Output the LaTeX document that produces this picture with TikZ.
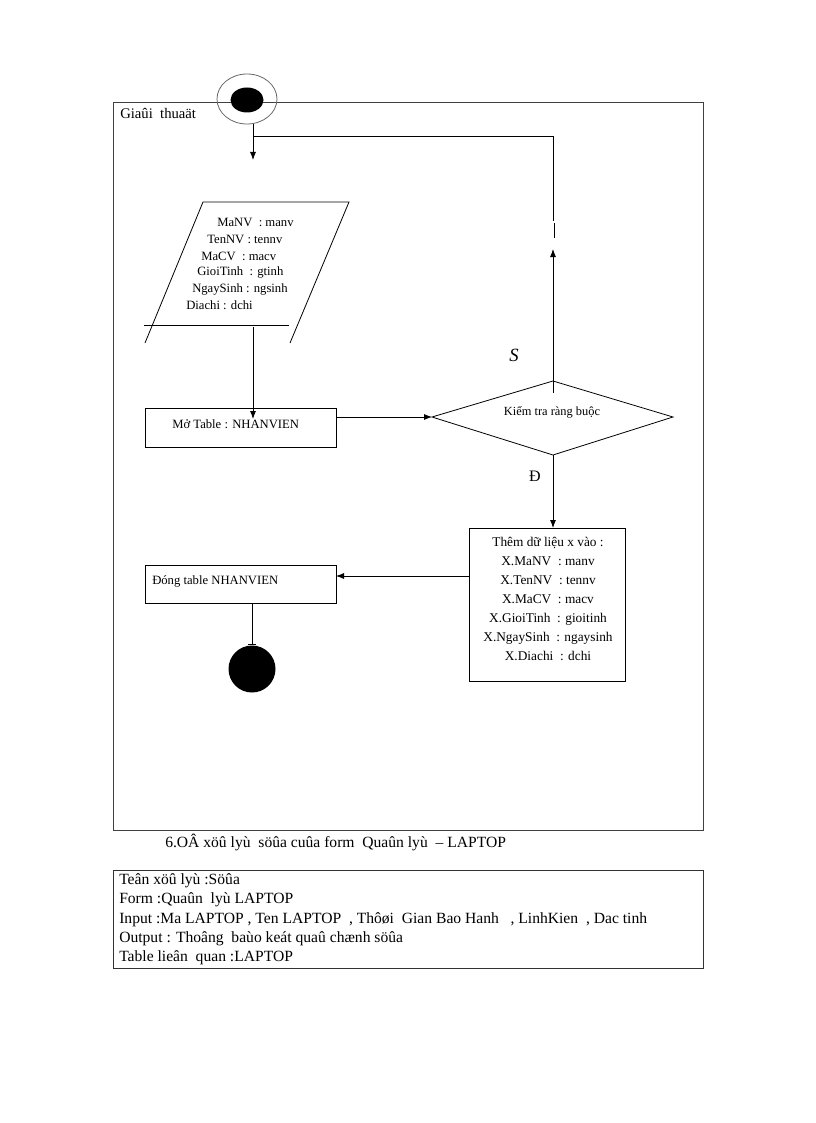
\documentclass[tikz,border=0pt]{standalone}
\usepackage{fontspec}
\setmainfont{Liberation Serif}
\usetikzlibrary{arrows.meta,shapes.geometric}
\begin{document}
\begin{tikzpicture}[x=0.75pt,y=-0.75pt,
  ln/.style={draw=black,line width=0.6pt},
  arr/.style={ln,-{Latex[length=6pt,width=4.5pt]}},
  fbox/.style={draw=black,line width=0.6pt,rectangle,inner sep=0pt},
  ftxt/.style={font=\fontsize{9.5}{11}\selectfont,inner sep=0pt},
  btxt/.style={font=\fontsize{11.7}{14}\selectfont,inner sep=0pt,anchor=west}]
\useasboundingbox (0,0) rectangle (816,1123);
% outer frame
\node[fbox,draw=black!75,minimum width=590*0.75pt,minimum height=728*0.75pt] (frame) at (408,466) {};
\node[font=\fontsize{11}{13}\selectfont,inner sep=0pt,anchor=west] (title) at (120,113) {Giaûi\ \ thuaät};
% start
\node[draw=black!60,line width=0.6pt,ellipse,minimum width=60*0.75pt,minimum height=50*0.75pt,inner sep=0pt] (start) at (247,99) {};
\node[fill=black,ellipse,minimum width=33*0.75pt,minimum height=25*0.75pt,inner sep=0pt] (startin) at (247,100) {};
\coordinate (s1) at (253,124);
\coordinate (s2) at (253,160);
\coordinate (j) at (253,136);
\draw[arr] (s1) -- (s2);
% parallelogram
\coordinate (p1) at (203,202);
\coordinate (p2) at (349,202);
\coordinate (p3) at (290,343);
\coordinate (p4) at (145,343);
\coordinate (pb1) at (144,325);
\coordinate (pb2) at (289,325);
\draw[ln] (p4) -- (p1) -- (p2) -- (p3);
\draw[ln] (pb1) -- (pb2);
\node[ftxt,anchor=west] (t1) at (217,222) {MaNV\ \ : manv};
\node[ftxt,anchor=west] (t2) at (207,239) {TenNV : tennv};
\node[ftxt,anchor=west] (t3) at (201,256) {MaCV\ \ : macv};
\node[ftxt,anchor=west] (t4) at (197,272) {GioiTinh\ \ : gtinh};
\node[ftxt,anchor=west] (t5) at (192,289) {NgaySinh : ngsinh};
\node[ftxt,anchor=west] (t6) at (186,305) {Diachi : dchi};
\coordinate (pout) at (253,327);
% Mo Table
\node[fbox,minimum width=191*0.75pt,minimum height=39*0.75pt] (mo) at (240.5,427.5) {};
\node[ftxt,anchor=west] (motxt) at (172,424) {Mở Table : NHANVIEN};
\coordinate (moin) at (253,419);
\draw[arr] (pout) -- (moin);
% diamond
\coordinate (dl) at (432,417);
\coordinate (dt) at (553,381);
\coordinate (dr) at (673,417);
\coordinate (db) at (553,455);
\draw[ln] (dl) -- (dt) -- (dr) -- (db) -- cycle;
\node[font=\fontsize{9.3}{10}\selectfont,inner sep=0pt] (dtxt) at (552,412) {Kiểm tra\ ràng buộc};
\coordinate (mor) at (336,417);
\draw[arr] (mor) -- (dl);
% S branch loop
\coordinate (dti) at (553,393);
\coordinate (up) at (553,249);
\coordinate (g1) at (554,238);
\coordinate (g2) at (554,223);
\coordinate (c1) at (553,221);
\coordinate (c2) at (553,136);
\draw[arr] (dti) -- (up);
\draw[ln] (g1) -- (g2);
\draw[ln] (c1) -- (c2) -- (j);
\node[font=\itshape\fontsize{14}{16}\selectfont,inner sep=0pt] (S) at (514,355) {S};
\node[font=\fontsize{12}{14}\selectfont,inner sep=0pt] (D) at (535,476) {Đ};
% Them box
\node[fbox,minimum width=156*0.75pt,minimum height=153*0.75pt] (them) at (547,604.5) {};
\node[ftxt,align=center,font=\fontsize{10}{14.2}\selectfont] (themtxt) at (548,599) {Thêm dữ liệu x vào :\\X.MaNV\ \ : manv\\X.TenNV\ \ : tennv\\X.MaCV\ \ : macv\\X.GioiTinh\ \ : gioitinh\\X.NgaySinh\ \ : ngaysinh\\X.Diachi\ \ : dchi};
\coordinate (thtop) at (553,528);
\draw[arr] (db) -- (thtop);
% Dong box
\node[fbox,minimum width=191*0.75pt,minimum height=38*0.75pt] (dong) at (240.5,584) {};
\node[ftxt,anchor=west] (dongtxt) at (152,581) {Đóng table NHANVIEN};
\coordinate (thl) at (469,576);
\coordinate (dgr) at (336,576);
\draw[arr] (thl) -- (dgr);
% end
\node[fill=black,circle,minimum size=47*0.75pt,inner sep=0pt] (end) at (252,669) {};
\coordinate (dgb) at (252,603);
\coordinate (tk) at (252,644);
\coordinate (tkl) at (248,644);
\coordinate (tkr) at (256,644);
\draw[ln] (dgb) -- (tk);
\draw[ln] (tkl) -- (tkr);
% caption
\node[btxt] (cap) at (165,842) {6.OÂ xöû lyù\ \ söûa cuûa form\ \ Quaûn lyù\ \ – LAPTOP};
% info box
\node[fbox,draw=black!80,minimum width=590*0.75pt,minimum height=98*0.75pt] (info) at (408,919) {};
\node[btxt] (i1) at (119,881) {Teân xöû lyù :Söûa};
\node[btxt] (i2) at (119,900) {Form :Quaûn\ \ lyù LAPTOP};
\node[btxt] (i3) at (119,919.5) {Input :Ma LAPTOP , Ten LAPTOP\ \ , Thôøi\ \ Gian Bao Hanh\ \ \ , LinhKien\ \ , Dac tinh};
\node[btxt] (i4) at (119,939) {Output : Thoâng\ \ baùo keát quaû chænh söûa};
\node[btxt] (i5) at (119,958) {Table lieân\ \ quan :LAPTOP};
\end{tikzpicture}
\end{document}
